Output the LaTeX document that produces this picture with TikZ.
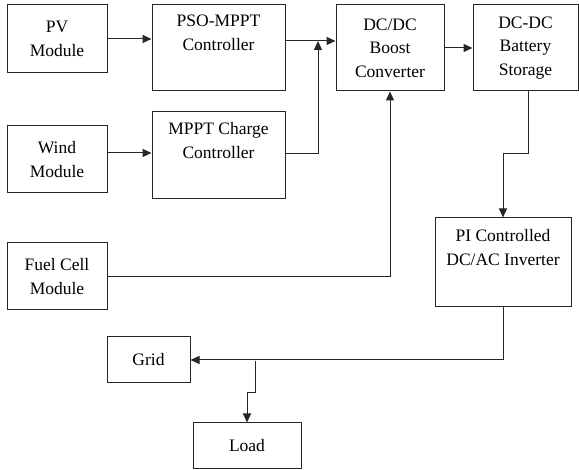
\documentclass[tikz,border=0pt]{standalone}
\usepackage{fontspec}
\setmainfont{LiberationSerif}[Extension=.ttf, UprightFont=*-Regular, BoldFont=*-Bold]
\usetikzlibrary{arrows.meta}
\begin{document}
\begin{tikzpicture}[x=1pt,y=-1pt,
  box/.style={draw=black!85, line width=1pt, align=center, inner sep=0pt,
    font=\rmfamily\fontsize{17.5}{23.5}\selectfont},
  arr/.style={draw=black!85, line width=1pt, -{Triangle[length=9pt,width=8pt]}},
  ln/.style={draw=black!85, line width=1pt}]
\useasboundingbox (0,0) rectangle (579,470);
% boxes
\node[box, minimum width=100pt, minimum height=68pt] (pv) at (57,39) {PV\\Module};
\node[box, minimum width=133pt, minimum height=86pt] (pso) at (218.5,48) {PSO-MPPT\\Controller\\\strut};
\node[box, minimum width=108pt, minimum height=86pt] (boost) at (390,48) {DC/DC\\Boost\\Converter};
\node[box, minimum width=105pt, minimum height=86pt] (bat) at (525.5,48) {DC-DC\\Battery\\Storage};
\node[box, minimum width=100pt, minimum height=67pt] (wind) at (57,159.5) {Wind\\Module};
\node[box, minimum width=133pt, minimum height=87pt] (mppt) at (218.5,155.5) {MPPT Charge\\Controller\\\strut};
\node[box, minimum width=100pt, minimum height=67pt] (fuel) at (57,276.5) {Fuel Cell\\Module};
\node[box, minimum width=136pt, minimum height=89pt] (pi) at (503,262.5) {PI Controlled\\DC/AC Inverter\\\strut};
\node[box, minimum width=83pt, minimum height=46pt] (grid) at (148.5,360) {Grid};
\node[box, minimum width=108pt, minimum height=46pt] (load) at (247,446) {Load};
% helper coordinates
\coordinate (j1) at (318,41);
\coordinate (w1) at (0,153);
\coordinate (m1) at (0,154);
\coordinate (b1) at (528,154);
\coordinate (g1) at (255,361);
\coordinate (g2) at (255,393);
% connectors
\draw[arr] (pv.east) -- (pso.west |- pv.east);
\draw[arr] (wind.east |- w1) -- (mppt.west |- w1);
\draw[arr] (pso.east |- j1) -- (boost.west |- j1);
\draw[arr] (mppt.east |- m1) -| (j1);
\draw[arr] (boost.east) -- (bat.west);
\draw[arr] (bat.south -| b1) -- (b1) -| (pi.north);
\draw[arr] (fuel.east) -| (boost.south);
\draw[arr] (pi.south) |- (grid.east);
\draw[arr] (g1) -- (g2) -| (load.north);
\end{tikzpicture}
\end{document}
